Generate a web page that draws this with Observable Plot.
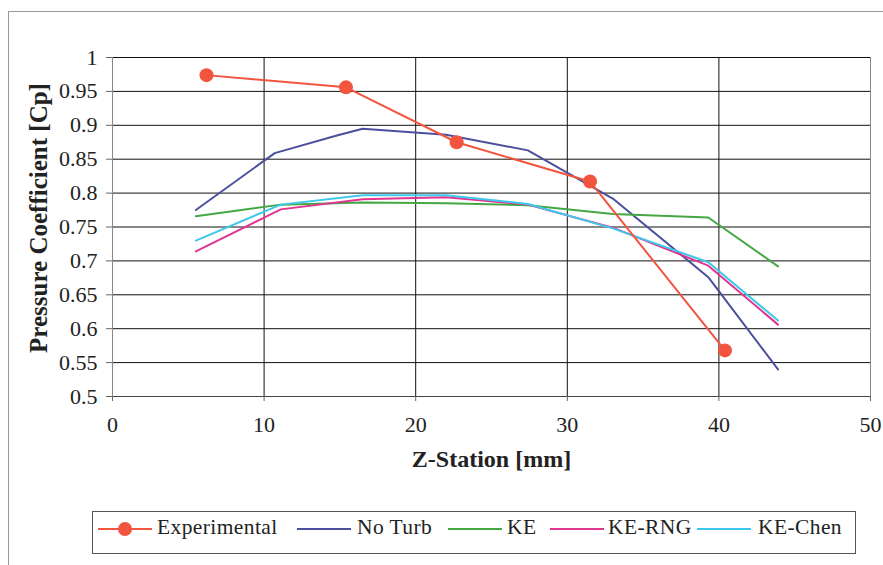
<!DOCTYPE html>
<html><head><meta charset="utf-8">
<script src="https://cdn.jsdelivr.net/npm/d3@7"></script>
<script src="https://cdn.jsdelivr.net/npm/@observablehq/plot@0.6"></script>
<style>
body{margin:0;background:#fff;}
#wrap{position:relative;width:883px;height:565px;font-family:"Liberation Serif","Times New Roman",serif;background:#fff;overflow:hidden;}
#wrap svg{position:absolute;left:0;top:0;font-family:"Liberation Serif","Times New Roman",serif !important;}
#wrap svg text{font-family:"Liberation Serif","Times New Roman",serif !important;}
.border{position:absolute;left:8px;top:11px;width:880px;height:560px;border-top:1px solid #999;border-left:1px solid #999;}
#legend{position:absolute;left:92px;top:511px;width:764px;height:43px;border:1px solid #555;box-sizing:border-box;background:#fff;}
.sw{position:absolute;top:16px;height:0;border-top:2px solid;width:54px;}
.dt{position:absolute;top:10px;width:14px;height:14px;border-radius:50%;}
.lt{position:absolute;top:5px;font-size:21.5px;line-height:21.5px;color:#222;white-space:nowrap;letter-spacing:0.4px;}
</style></head>
<body>
<div id="wrap"><div class="border"></div></div>
<script>
// ---- data ----
const xTicks = [0, 10, 20, 30, 40, 50];
const yTicks = [0.5, 0.55, 0.6, 0.65, 0.7, 0.75, 0.8, 0.85, 0.9, 0.95, 1];
const xLabel = "Z-Station [mm]";
const yLabel = "Pressure Coefficient [Cp]";
const seriesNames = ["Experimental", "No Turb", "KE", "KE-RNG", "KE-Chen"];
const seriesColors = ["#f2553f", "#4c4f9c", "#45a845", "#e0368e", "#3ec8ec"];

const expZ  = [6.2, 15.4, 22.7, 31.5, 40.4];
const expCp = [0.974, 0.956, 0.875, 0.817, 0.568];

const noTurbZ  = [5.5, 10.7, 14.8, 16.5, 22, 27.4, 33, 39.3, 43.9];
const noTurbCp = [0.775, 0.859, 0.885, 0.895, 0.886, 0.863, 0.792, 0.676, 0.540];

const simZ = [5.5, 11.1, 16.5, 22, 27.4, 33, 39.3, 43.9];
const keCp    = [0.766, 0.783, 0.786, 0.785, 0.782, 0.769, 0.764, 0.692];
const keRngCp = [0.714, 0.776, 0.791, 0.794, 0.783, 0.749, 0.693, 0.606];
const keChenCp = [0.730, 0.783, 0.797, 0.797, 0.784, 0.748, 0.698, 0.612];

// ---- build table ----
const rows = [];
const add = (name, zs, cps) => zs.forEach((z, i) => rows.push({series: name, z, cp: cps[i]}));
add("Experimental", expZ, expCp);
add("No Turb", noTurbZ, noTurbCp);
add("KE", simZ, keCp);
add("KE-RNG", simZ, keRngCp);
add("KE-Chen", simZ, keChenCp);
const colorOf = Object.fromEntries(seriesNames.map((n, i) => [n, seriesColors[i]]));
const lineOrder = ["No Turb", "KE", "KE-RNG", "KE-Chen", "Experimental"];
const serif = '"Liberation Serif","Times New Roman",serif';

const chart = Plot.plot({
  width: 883, height: 565,
  marginLeft: 112, marginRight: 13, marginTop: 57, marginBottom: 169,
  x: {domain: [0, 50]},
  y: {domain: [0.5, 1]},
  style: {fontFamily: serif, fontSize: "22px", color: "#222", background: "transparent"},
  marks: [
    Plot.gridX(xTicks.filter(d => d > 0 && d < 50), {stroke: "#111", strokeOpacity: 1}),
    Plot.gridY(yTicks.filter(d => d > 0.5), {stroke: "#111", strokeOpacity: 1}),
    Plot.ruleX([0, 50], {stroke: "#888"}),
    Plot.ruleY([0.5], {stroke: "#444"}),
    Plot.axisX(xTicks, {tickSize: 5, tickPadding: 15, label: null, stroke: "#666", fontFamily: serif, fontSize: 22}),
    Plot.axisY(yTicks, {tickSize: 6, tickPadding: 9, label: null, stroke: "#666", tickFormat: d => String(d), fontFamily: serif, fontSize: 22}),
    ...lineOrder.map(name => Plot.line(rows.filter(r => r.series === name), {
      x: "z", y: "cp", stroke: colorOf[name], strokeWidth: 2, strokeLinejoin: "round"
    })),
    Plot.dot(rows.filter(r => r.series === "Experimental"), {x: "z", y: "cp", r: 7, fill: colorOf["Experimental"], stroke: "none"}),
    Plot.text([xLabel], {frameAnchor: "bottom", dy: 70, text: d => d, fontWeight: "bold", fontSize: 24, fill: "#222", fontFamily: serif}),
    Plot.text([yLabel], {frameAnchor: "left", textAnchor: "middle", dx: -74, dy: -9, rotate: -90, text: d => d, fontWeight: "bold", fontSize: 25, fill: "#222", fontFamily: serif})
  ]
});
const wrap = document.getElementById("wrap");
wrap.appendChild(chart);

// ---- legend ----
const legend = document.createElement("div");
legend.id = "legend";
const swLeft = [5, 204, 355, 457, 604];
const txLeft = [64, 264, 414, 515, 665];
seriesNames.forEach((name, i) => {
  const sw = document.createElement("div");
  sw.className = "sw";
  sw.style.left = swLeft[i] + "px";
  sw.style.borderTopColor = seriesColors[i];
  legend.appendChild(sw);
  if (name === "Experimental") {
    const dt = document.createElement("div");
    dt.className = "dt";
    dt.style.left = (swLeft[i] + 20) + "px";
    dt.style.background = seriesColors[i];
    legend.appendChild(dt);
  }
  const t = document.createElement("span");
  t.className = "lt";
  t.style.left = txLeft[i] + "px";
  t.textContent = name;
  legend.appendChild(t);
});
wrap.appendChild(legend);
</script>
</body></html>
